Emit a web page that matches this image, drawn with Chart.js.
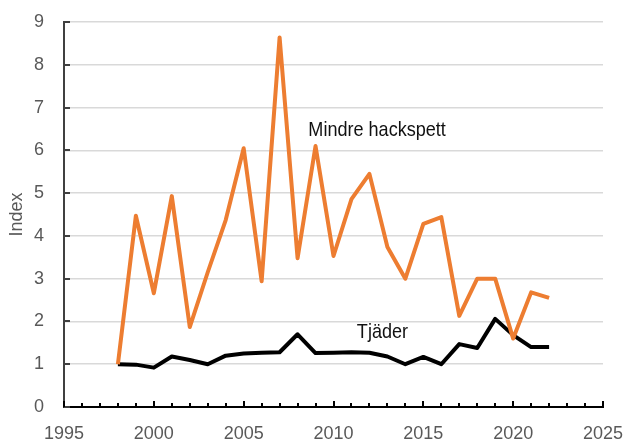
<!DOCTYPE html>
<html>
<head>
<meta charset="utf-8">
<script src="https://cdn.jsdelivr.net/npm/chart.js@4.4.1/dist/chart.umd.min.js"></script>
<style>
  html, body { margin: 0; padding: 0; background: #fff; }
  #wrap { width: 624px; height: 441px; position: relative; }
</style>
</head>
<body>
<div id="wrap"><canvas id="c" width="624" height="441"></canvas></div>
<script>
const years = [1998,1999,2000,2001,2002,2003,2004,2005,2006,2007,2008,2009,2010,2011,2012,2013,2014,2015,2016,2017,2018,2019,2020,2021,2022];
const mindreHackspett = [1.0,4.47,2.66,4.93,1.87,3.15,4.37,6.05,2.94,8.64,3.48,6.1,3.53,4.86,5.45,3.74,3.0,4.28,4.44,2.13,3.0,3.0,1.6,2.68,2.55];
const tjader = [1.0,0.99,0.92,1.18,1.1,1.0,1.2,1.25,1.27,1.28,1.7,1.26,1.27,1.28,1.27,1.18,1.0,1.17,1.0,1.47,1.38,2.06,1.68,1.4,1.4];
const xMin = 1995, xMax = 2025, yMin = 0, yMax = 9;
const seriesLabels = [
  { text: 'Mindre hackspett', x: 2008.6, y: 6.33 },
  { text: 'Tjäder', x: 2011.3, y: 1.61 }
];

const FONT = '"Liberation Sans", Arial, sans-serif';

const toPts = arr => years.map((yr, i) => ({ x: yr, y: arr[i] }));

const decor = {
  id: 'decor',
  afterDatasetsDraw(chart) {
    const ctx = chart.ctx;
    const xs = chart.scales.x, ys = chart.scales.y;
    const area = chart.chartArea;
    ctx.save();
    ctx.strokeStyle = '#404040';
    ctx.lineWidth = 2;
    for (let v = yMin; v <= yMax; v++) {
      const py = Math.round(ys.getPixelForValue(v));
      ctx.beginPath();
      ctx.moveTo(area.left, py);
      ctx.lineTo(area.left + 6, py);
      ctx.stroke();
    }
    ctx.strokeStyle = '#000';
    for (let v = xMin; v <= xMax; v++) {
      const px = Math.round(xs.getPixelForValue(v));
      const len = (v % 5 === 0) ? 6 : 4;
      ctx.beginPath();
      ctx.moveTo(px, area.bottom);
      ctx.lineTo(px, area.bottom - len);
      ctx.stroke();
    }
    ctx.fillStyle = '#111';
    ctx.font = '21px ' + FONT;
    ctx.textAlign = 'left';
    ctx.textBaseline = 'alphabetic';
    seriesLabels.forEach(l => {
      const px = xs.getPixelForValue(l.x), py = ys.getPixelForValue(l.y);
      ctx.save();
      ctx.translate(px, py);
      ctx.scale(0.86, 1);
      ctx.fillText(l.text, 0, 0);
      ctx.restore();
    });
    ctx.restore();
  }
};

new Chart(document.getElementById('c'), {
  type: 'line',
  data: {
    datasets: [
      {
        label: 'Mindre hackspett',
        data: toPts(mindreHackspett),
        borderColor: '#ED7D31',
        borderWidth: 4,
        borderJoinStyle: 'round',
        pointRadius: 0,
        tension: 0,
        fill: false
      },
      {
        label: 'Tjäder',
        data: toPts(tjader),
        borderColor: '#000000',
        borderWidth: 4,
        borderJoinStyle: 'round',
        pointRadius: 0,
        tension: 0,
        fill: false
      }
    ]
  },
  options: {
    responsive: false,
    animation: false,
    devicePixelRatio: 1,
    layout: { padding: { top: 22, right: 21, left: 0, bottom: 0 } },
    plugins: { legend: { display: false }, tooltip: { enabled: false } },
    scales: {
      x: {
        type: 'linear',
        min: xMin, max: xMax,
        afterFit(s) { s.height = 34; s.paddingLeft = 0; s.paddingRight = 0; },
        grid: { display: false, drawTicks: false },
        border: { display: true, color: '#000', width: 2 },
        ticks: {
          stepSize: 1,
          autoSkip: false,
          maxRotation: 0,
          padding: 16,
          color: '#595959',
          font: { family: FONT, size: 18 },
          callback: v => (v % 5 === 0 ? String(v) : '')
        }
      },
      y: {
        min: yMin, max: yMax,
        afterFit(s) { s.width = 64; s.paddingTop = 0; s.paddingBottom = 0; },
        grid: { color: '#d9d9d9', lineWidth: 1.5, drawTicks: false },
        border: { display: true, color: '#404040', width: 2 },
        title: { display: true, text: 'Index', color: '#595959', font: { family: FONT, size: 18 }, padding: 6 },
        ticks: {
          stepSize: 1,
          padding: 20,
          color: '#595959',
          font: { family: FONT, size: 18 }
        }
      }
    }
  },
  plugins: [decor]
});
</script>
</body>
</html>
